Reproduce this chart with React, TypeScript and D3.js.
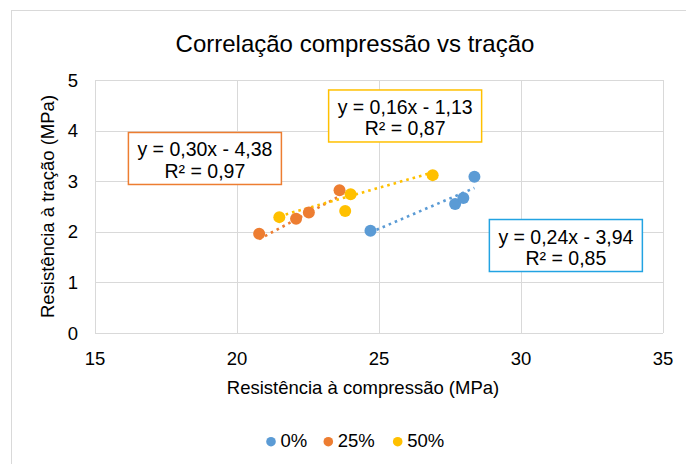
import React from "react";
import * as d3 from "d3";

const seriesNames = ["0%", "25%", "50%"];
const seriesColors = ["#5b9bd5", "#ed7d31", "#ffc000"];
const boxColors = ["#22a3e2", "#ed7d31", "#ffc000"];

const x0 = [24.7, 27.68, 27.97, 28.36];
const y0 = [2.02, 2.55, 2.67, 3.09];
const x25 = [20.78, 22.08, 22.53, 23.61];
const y25 = [1.96, 2.26, 2.38, 2.82];
const x50 = [21.49, 23.81, 24.0, 26.89];
const y50 = [2.29, 2.41, 2.74, 3.12];

const slopes = [0.24, 0.3, 0.16];
const intercepts = [-3.94, -4.38, -1.13];
const eqLabels = ["y = 0,24x - 3,94", "y = 0,30x - 4,38", "y = 0,16x - 1,13"];
const r2Labels = ["R² = 0,85", "R² = 0,97", "R² = 0,87"];
const labelX = [31.58, 18.87, 25.92];
const labelY = [1.729, 3.449, 4.289];

const xTicks = [15, 20, 25, 30, 35];
const yTicks = [0, 1, 2, 3, 4, 5];

const xs = [x0, x25, x50];
const ys = [y0, y25, y50];

const W = 686;
const H = 464;
const FONT = "'Liberation Sans', Arial, sans-serif";

export default function App() {
  const x = d3.scaleLinear().domain([15, 35]).range([95, 663]);
  const y = d3.scaleLinear().domain([0, 5]).range([333, 80]);
  const line = d3
    .line<[number, number]>()
    .x((d) => x(d[0]))
    .y((d) => y(d[1]));
  const boxW = 153;
  const boxH = 52;
  const legendX = [271, 328.3, 397.7];

  return (
    <svg
      width={W}
      height={H}
      style={{ position: "absolute", left: 0, top: 0, display: "block" }}
      fontFamily={FONT}
    >
      <rect x={0} y={0} width={W} height={H} fill="#fff" />
      <rect x={11.5} y={10.5} width={720} height={480} fill="#fff" stroke="#d9d9d9" strokeWidth={1} />
      <text x={355} y={52} fontSize={24} textAnchor="middle" fill="#000">
        Correlação compressão vs tração
      </text>
      {yTicks.map((t) => (
        <line key={"gy" + t} x1={x(15)} x2={x(35)} y1={Math.round(y(t)) + 0.5} y2={Math.round(y(t)) + 0.5} stroke="#d9d9d9" />
      ))}
      {xTicks.map((t) => (
        <line key={"gx" + t} x1={Math.round(x(t)) + 0.5} x2={Math.round(x(t)) + 0.5} y1={y(0)} y2={y(5)} stroke="#d9d9d9" />
      ))}
      {yTicks.map((t) => (
        <text key={"ty" + t} x={78} y={y(t) + 6.5} fontSize={18.5} textAnchor="end" fill="#000">
          {t}
        </text>
      ))}
      {xTicks.map((t) => (
        <text key={"tx" + t} x={x(t)} y={365} fontSize={18.5} textAnchor="middle" fill="#000">
          {t}
        </text>
      ))}
      <text x={363} y={394} fontSize={18.5} textAnchor="middle" fill="#000">
        Resistência à compressão (MPa)
      </text>
      <text
        transform={`translate(54,${(y(0) + y(5)) / 2}) rotate(-90)`}
        fontSize={18.5}
        textAnchor="middle"
        fill="#000"
      >
        Resistência à tração (MPa)
      </text>
      {xs.map((sx, i) => {
        const mn = d3.min(sx) as number;
        const mx = d3.max(sx) as number;
        const pts: [number, number][] = [
          [mn, slopes[i] * mn + intercepts[i]],
          [mx, slopes[i] * mx + intercepts[i]],
        ];
        return (
          <path
            key={"tr" + i}
            d={line(pts) || ""}
            fill="none"
            stroke={seriesColors[i]}
            strokeWidth={2.6}
            strokeDasharray="2.6 4"
          />
        );
      })}
      {xs.map((sx, i) =>
        sx.map((v, j) => (
          <circle key={"p" + i + "-" + j} cx={x(v)} cy={y(ys[i][j])} r={6} fill={seriesColors[i]} />
        ))
      )}
      {eqLabels.map((eq, i) => {
        const cx = x(labelX[i]);
        const cy = y(labelY[i]);
        return (
          <g key={"lb" + i}>
            <rect
              x={cx - boxW / 2}
              y={cy - boxH / 2}
              width={boxW}
              height={boxH}
              fill="#fff"
              stroke={boxColors[i]}
              strokeWidth={1.5}
            />
            <text x={cx} y={cy - 2} fontSize={19.5} textAnchor="middle" fill="#000">
              {eq}
            </text>
            <text x={cx} y={cy + 19.5} fontSize={19.5} textAnchor="middle" fill="#000">
              {r2Labels[i]}
            </text>
          </g>
        );
      })}
      {seriesNames.map((n, i) => (
        <g key={"lg" + i}>
          <circle cx={legendX[i]} cy={441.7} r={4.8} fill={seriesColors[i]} />
          <text x={legendX[i] + 9.5} y={447.3} fontSize={18.5} fill="#000">
            {n}
          </text>
        </g>
      ))}
    </svg>
  );
}
